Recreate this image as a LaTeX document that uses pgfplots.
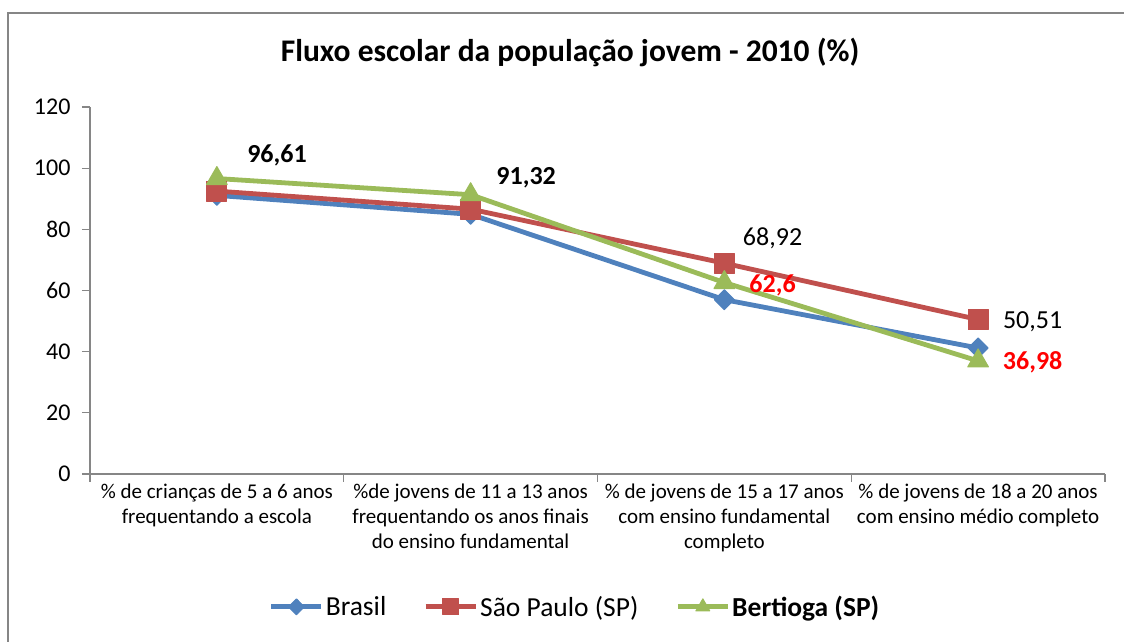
\documentclass[border=0pt]{standalone}
\usepackage{fontspec}
\setmainfont{Carlito}
\usepackage{pgfplots}
\pgfplotsset{compat=1.18}
\definecolor{xlblue}{HTML}{4F81BD}
\definecolor{xlred}{HTML}{C0504D}
\definecolor{xlgreen}{HTML}{9BBB59}
\definecolor{axgray}{HTML}{868686}
\begin{document}
\begin{tikzpicture}
\useasboundingbox (0,0) rectangle (1124pt,642pt);
% chart area frame (top and left edges visible)
\draw[axgray, line width=2pt] (8pt,0pt) -- (8pt,629pt) -- (1124pt,629pt);
\begin{axis}[at={(90pt,168pt)}, anchor=south west, scale only axis,
  width=1015pt, height=367pt, clip=false,
  xmin=-0.5, xmax=3.5, ymin=0, ymax=120, ytick={0,20,...,120},
  axis x line*=bottom, axis y line*=left,
  axis line style={axgray, line width=1.2pt, -},
  tick align=outside, major tick length=8pt,
  tick style={axgray, line width=1.2pt},
  xtick={-0.5,0.5,1.5,2.5,3.5}, xticklabels={{},{},{},{},{}},
  extra x ticks={0,1,2,3},
  extra x tick style={major tick length=0pt},
  extra x tick labels={{\% de crianças de 5 a 6 anos\\frequentando a escola},
    {\%de jovens de 11 a 13 anos\\frequentando os anos finais\\do ensino fundamental},
    {\% de jovens de 15 a 17 anos\\com ensino fundamental\\completo},
    {\% de jovens de 18 a 20 anos\\com ensino médio completo}},
  xticklabel style={align=center, anchor=north, yshift=-6pt,
    font=\fontsize{21}{25}\selectfont, black},
  yticklabel style={font=\fontsize{24}{28}\selectfont, black, xshift=-8pt},
  /pgf/number format/assume math mode=true,
  title={Fluxo escolar da população jovem - 2010 (\%)},
  title style={at={(axis description cs:0.473,1.133)}, anchor=center,
    font=\bfseries\fontsize{31.5}{36}\selectfont},
  legend columns=3,
  legend style={at={(axis description cs:0.478,-0.362)}, anchor=center,
    draw=none, fill=none, font=\fontsize{27.5}{32}\selectfont,
    /tikz/every even column/.append style={column sep=35pt}},
  legend image code/.code={\draw[mark repeat=2, mark phase=2, mark size=8pt]
    plot coordinates {(0pt,0pt) (25pt,0pt) (50pt,0pt)};},
]
\addplot[xlblue, line width=4.8pt, line join=round, mark=diamond*, mark size=10pt,
  mark options={xscale=1.33, solid, fill=xlblue, line width=1pt}]
  coordinates {(0,91.1) (1,84.9) (2,57.0) (3,41.2)};
\addlegendentry{Brasil}
\addplot[xlred, line width=4.8pt, line join=round, mark=square*, mark size=10pt,
  mark options={solid, fill=xlred, line width=1pt}]
  coordinates {(0,92.5) (1,86.6) (2,68.92) (3,50.51)};
\addlegendentry{São Paulo (SP)}
\addplot[xlgreen, line width=4.8pt, line join=round, mark=triangle*, mark size=12pt,
  mark options={solid, fill=xlgreen, line width=1pt}]
  coordinates {(0,96.61) (1,91.32) (2,62.6) (3,36.98)};
\addlegendentry{\textbf{Bertioga (SP)}}
% data labels
\node[font=\bfseries\fontsize{26}{31}\selectfont] at (axis cs:0.237,104.3) {96,61};
\node[font=\bfseries\fontsize{26}{31}\selectfont] at (axis cs:1.219,96.8) {91,32};
\node[font=\fontsize{26}{31}\selectfont] at (axis cs:2.19,77.2) {68,92};
\node[font=\bfseries\fontsize{26}{31}\selectfont, red] at (axis cs:2.19,61.8) {62,6};
\node[font=\fontsize{26}{31}\selectfont] at (axis cs:3.215,49.7) {50,51};
\node[font=\bfseries\fontsize{26}{31}\selectfont, red] at (axis cs:3.215,36.6) {36,98};
\end{axis}
\end{tikzpicture}
\end{document}
